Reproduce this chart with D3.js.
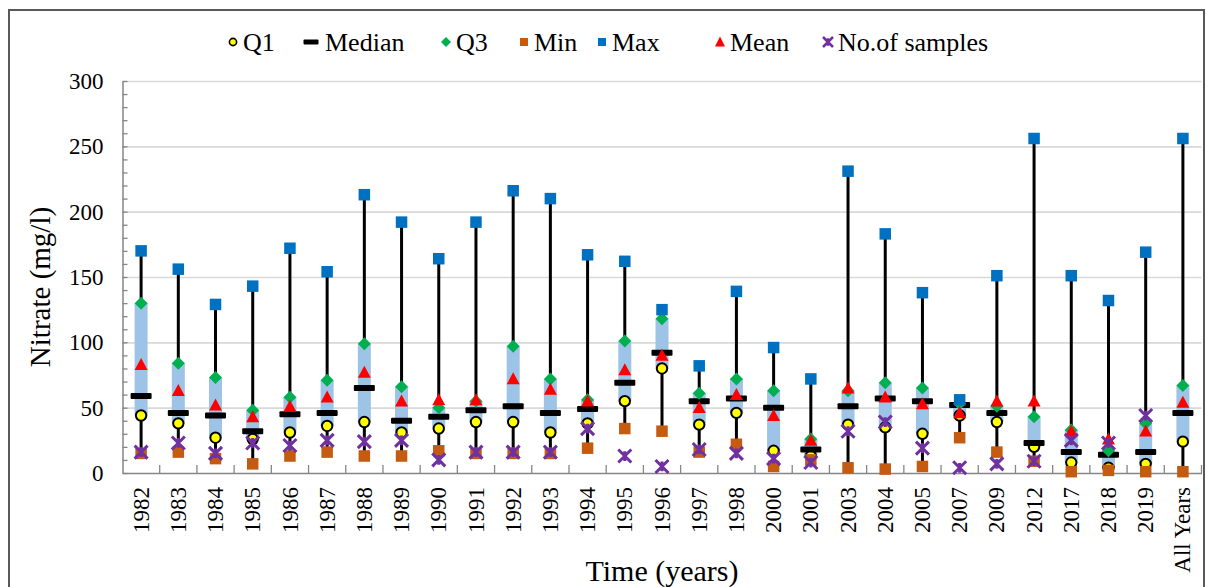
<!DOCTYPE html>
<html>
<head>
<meta charset="utf-8">
<script src="https://cdn.jsdelivr.net/npm/d3@7"></script>
<style>
  html, body { margin: 0; padding: 0; background: #fff; }
  svg { display: block; }
  text { font-family: "Liberation Serif", "Times New Roman", serif; fill: #000; }
</style>
</head>
<body>
<svg id="chart" width="1207" height="587"></svg>
<script>
// ---------------- data ----------------
const categories = ['1982','1983','1984','1985','1986','1987','1988','1989','1990','1991','1992','1993','1994','1995','1996','1997','1998','2000','2001','2003','2004','2005','2007','2009','2012','2017','2018','2019','All Years'];
const q1Values     = [44, 38, 27, 26, 31, 36, 39, 31, 34, 39, 39, 31, 38, 55, 80, 37, 46, 17, 13, 37, 35, 30, 44, 39, 20, 8, 4, 7, 24];
const medianValues = [59, 46, 44, 32, 45, 46, 65, 40, 43, 48, 51, 46, 49, 69, 92, 55, 57, 50, 18, 51, 57, 55, 52, 46, 23, 16, 14, 16, 46];
const q3Values     = [130, 84, 73, 48, 58, 71, 99, 66, 50, 55, 97, 72, 56, 101, 118, 61, 72, 63, 26, 63, 69, 65, 53, 51, 43, 33, 17, 38, 67];
const minValues    = [15, 16, 11, 7, 13, 16, 13, 13, 17, 15, 15, 15, 19, 34, 32, 16, 22, 5, 10, 4, 3, 5, 27, 16, 9, 1, 2, 1, 1];
const maxValues    = [170, 156, 129, 143, 172, 154, 213, 192, 164, 192, 216, 210, 167, 162, 125, 82, 139, 96, 72, 231, 183, 138, 56, 151, 256, 151, 132, 169, 256];
const meanValues   = [83, 63, 52, 43, 51, 58, 77, 55, 56, 56, 72, 64, 55, 79, 90, 50, 60, 44, 25, 65, 58, 53, 46, 55, 55, 32, 26, 32, 54];
const sampleValues = [16, 23, 15, 23, 21, 25, 24, 25, 10, 16, 16, 16, 34, 13, 5, 18, 15, 11, 8, 32, 39, 19, 4, 7, 9, 25, 23, 44, null];
const yTickValues  = [0, 50, 100, 150, 200, 250, 300];
const legendLabels = ['Q1', 'Median', 'Q3', 'Min', 'Max', 'Mean', 'No.of samples'];

// ---------------- styling ----------------
const C = {
  q1: '#FFFF00', median: '#000000', q3: '#00B050', min: '#C55A11',
  max: '#0070C0', mean: '#FF0000', samples: '#7030A0', box: '#9DC3E6',
  grid: '#D9D9D9', axis: '#868686'
};

const svg = d3.select('#chart');
const plot = { left: 122.5, right: 1201.5, top: 81, bottom: 473 };

const x = d3.scaleBand().domain(categories).range([plot.left, plot.right]);
const y = d3.scaleLinear().domain([0, 300]).range([plot.bottom, plot.top]);
const cx = c => x(c) + x.bandwidth() / 2;

// outer frame
svg.append('rect').attr('x', 9).attr('y', 10).attr('width', 1195).attr('height', 600)
  .attr('fill', 'none').attr('stroke', '#595959').attr('stroke-width', 2);

// gridlines
svg.append('g').attr('transform', `translate(${plot.left},0)`)
  .call(d3.axisLeft(y).tickValues(yTickValues.filter(v => v > 0)).tickSize(-(plot.right - plot.left)).tickFormat(''))
  .call(g => g.select('.domain').remove())
  .call(g => g.selectAll('line').attr('stroke', C.grid).attr('stroke-width', 1.6));

// minor ticks on y axis (inside)
svg.append('g').attr('transform', `translate(${plot.left},0)`)
  .call(d3.axisRight(y).ticks(30).tickSize(5).tickFormat(''))
  .call(g => g.select('.domain').remove())
  .call(g => g.selectAll('line').attr('stroke', C.axis).attr('stroke-width', 1.3));

// y axis labels + line
svg.append('g').attr('transform', `translate(${plot.left},0)`)
  .call(d3.axisLeft(y).tickValues(yTickValues).tickSize(0).tickPadding(19))
  .call(g => g.select('.domain').attr('stroke', C.axis).attr('stroke-width', 1.5))
  .call(g => g.selectAll('text').style('font-size', '23px').style('font-family', '"Liberation Serif", serif').attr('fill', '#000'));

// x axis
const xAxisG = svg.append('g').attr('transform', `translate(0,${plot.bottom})`)
  .call(d3.axisBottom(x).tickSize(0).tickPadding(0))
  .call(g => g.select('.domain').attr('stroke', C.axis).attr('stroke-width', 1.5));
xAxisG.selectAll('.tick text')
  .style('font-size', '23px').style('font-family', '"Liberation Serif", serif').attr('fill', '#000')
  .attr('text-anchor', 'end')
  .attr('transform', 'rotate(-90)')
  .attr('x', -14).attr('y', 0).attr('dy', '0.33em');

// category separator ticks (inside, pointing up)
const boundaries = categories.slice(1).map(c => x(c)).concat([plot.right]);
svg.append('g').selectAll('line').data(boundaries).join('line')
  .attr('x1', d => d).attr('x2', d => d)
  .attr('y1', plot.bottom).attr('y2', plot.bottom - 8)
  .attr('stroke', C.axis).attr('stroke-width', 1.3);

// ---------------- marks ----------------
const rows = categories.map((c, i) => ({
  c, q1: q1Values[i], med: medianValues[i], q3: q3Values[i],
  min: minValues[i], max: maxValues[i], mean: meanValues[i], n: sampleValues[i]
}));

const marks = svg.append('g');

// whiskers min->max
marks.append('g').selectAll('line').data(rows).join('line')
  .attr('x1', d => cx(d.c)).attr('x2', d => cx(d.c))
  .attr('y1', d => y(d.min)).attr('y2', d => y(d.max))
  .attr('stroke', '#000').attr('stroke-width', 3);

// boxes Q1->Q3
const boxW = 13;
marks.append('g').selectAll('rect').data(rows).join('rect')
  .attr('x', d => cx(d.c) - boxW / 2).attr('width', boxW)
  .attr('y', d => y(Math.max(d.q1, d.q3))).attr('height', d => Math.abs(y(d.q1) - y(d.q3)))
  .attr('fill', C.box);

// symbol helpers
function drawSymbol(g, type, s) {
  switch (type) {
    case 'circle':
      g.append('circle').attr('r', s.r).attr('fill', C.q1).attr('stroke', '#000').attr('stroke-width', s.sw);
      break;
    case 'bar':
      g.append('rect').attr('x', -s.w / 2).attr('y', -s.h / 2).attr('width', s.w).attr('height', s.h)
        .attr('rx', 1).attr('fill', C.median);
      break;
    case 'diamond':
      g.append('path').attr('d', `M0,${-s.r}L${s.r},0L0,${s.r}L${-s.r},0Z`).attr('fill', C.q3);
      break;
    case 'minsq':
      g.append('rect').attr('x', -s.a / 2).attr('y', -s.a / 2).attr('width', s.a).attr('height', s.a).attr('fill', C.min);
      break;
    case 'maxsq':
      g.append('rect').attr('x', -s.a / 2).attr('y', -s.a / 2).attr('width', s.a).attr('height', s.a).attr('fill', C.max);
      break;
    case 'triangle':
      g.append('path').attr('d', `M0,${-s.h * 0.55}L${s.w / 2},${s.h * 0.45}L${-s.w / 2},${s.h * 0.45}Z`).attr('fill', C.mean);
      break;
    case 'star':
      g.append('path')
        .attr('d', `M${-s.r},${-s.r}L${s.r},${s.r}M${s.r},${-s.r}L${-s.r},${s.r}M0,${-s.r * 0.75}L0,${s.r * 0.75}`)
        .attr('stroke', C.samples).attr('stroke-width', s.sw).attr('fill', 'none');
      break;
  }
}

const plotSym = {
  circle: { r: 5.2, sw: 2 }, bar: { w: 21, h: 6 }, diamond: { r: 6.5 },
  minsq: { a: 11.5 }, maxsq: { a: 11.5 }, triangle: { w: 13, h: 12 }, star: { r: 6.5, sw: 3 }
};

const series = [
  { key: 'q1', type: 'circle' },
  { key: 'med', type: 'bar' },
  { key: 'q3', type: 'diamond' },
  { key: 'min', type: 'minsq' },
  { key: 'max', type: 'maxsq' },
  { key: 'mean', type: 'triangle' },
  { key: 'n', type: 'star' }
];

series.forEach(sr => {
  marks.append('g').selectAll('g').data(rows.filter(d => d[sr.key] != null)).join('g')
    .attr('transform', d => `translate(${cx(d.c)},${y(d[sr.key])})`)
    .each(function () { drawSymbol(d3.select(this), sr.type, plotSym[sr.type]); });
});

// ---------------- legend ----------------
const legendSym = {
  circle: { r: 3.6, sw: 1.6 }, bar: { w: 15, h: 5 }, diamond: { r: 5 },
  minsq: { a: 8 }, maxsq: { a: 8 }, triangle: { w: 10, h: 10 }, star: { r: 5, sw: 2.5 }
};
const legendMarkerX = [233, 311, 446, 524, 602, 720, 828];
const legendY = 42;
const legend = svg.append('g');
legendLabels.forEach((lab, i) => {
  const g = legend.append('g').attr('transform', `translate(${legendMarkerX[i]},${legendY})`);
  drawSymbol(g.append('g'), series[i].type, legendSym[series[i].type]);
  g.append('text').attr('x', series[i].type === 'bar' ? 14 : 10).attr('y', 0).attr('dy', '0.35em')
    .style('font-size', '26px').text(lab);
});

// ---------------- axis titles ----------------
svg.append('text').attr('transform', `translate(50,${(plot.top + plot.bottom) / 2 + 10}) rotate(-90)`)
  .attr('text-anchor', 'middle').style('font-size', '29px').text('Nitrate (mg/l)');
svg.append('text').attr('x', 662).attr('y', 581).attr('text-anchor', 'middle')
  .style('font-size', '30px').text('Time (years)');
</script>
</body>
</html>
